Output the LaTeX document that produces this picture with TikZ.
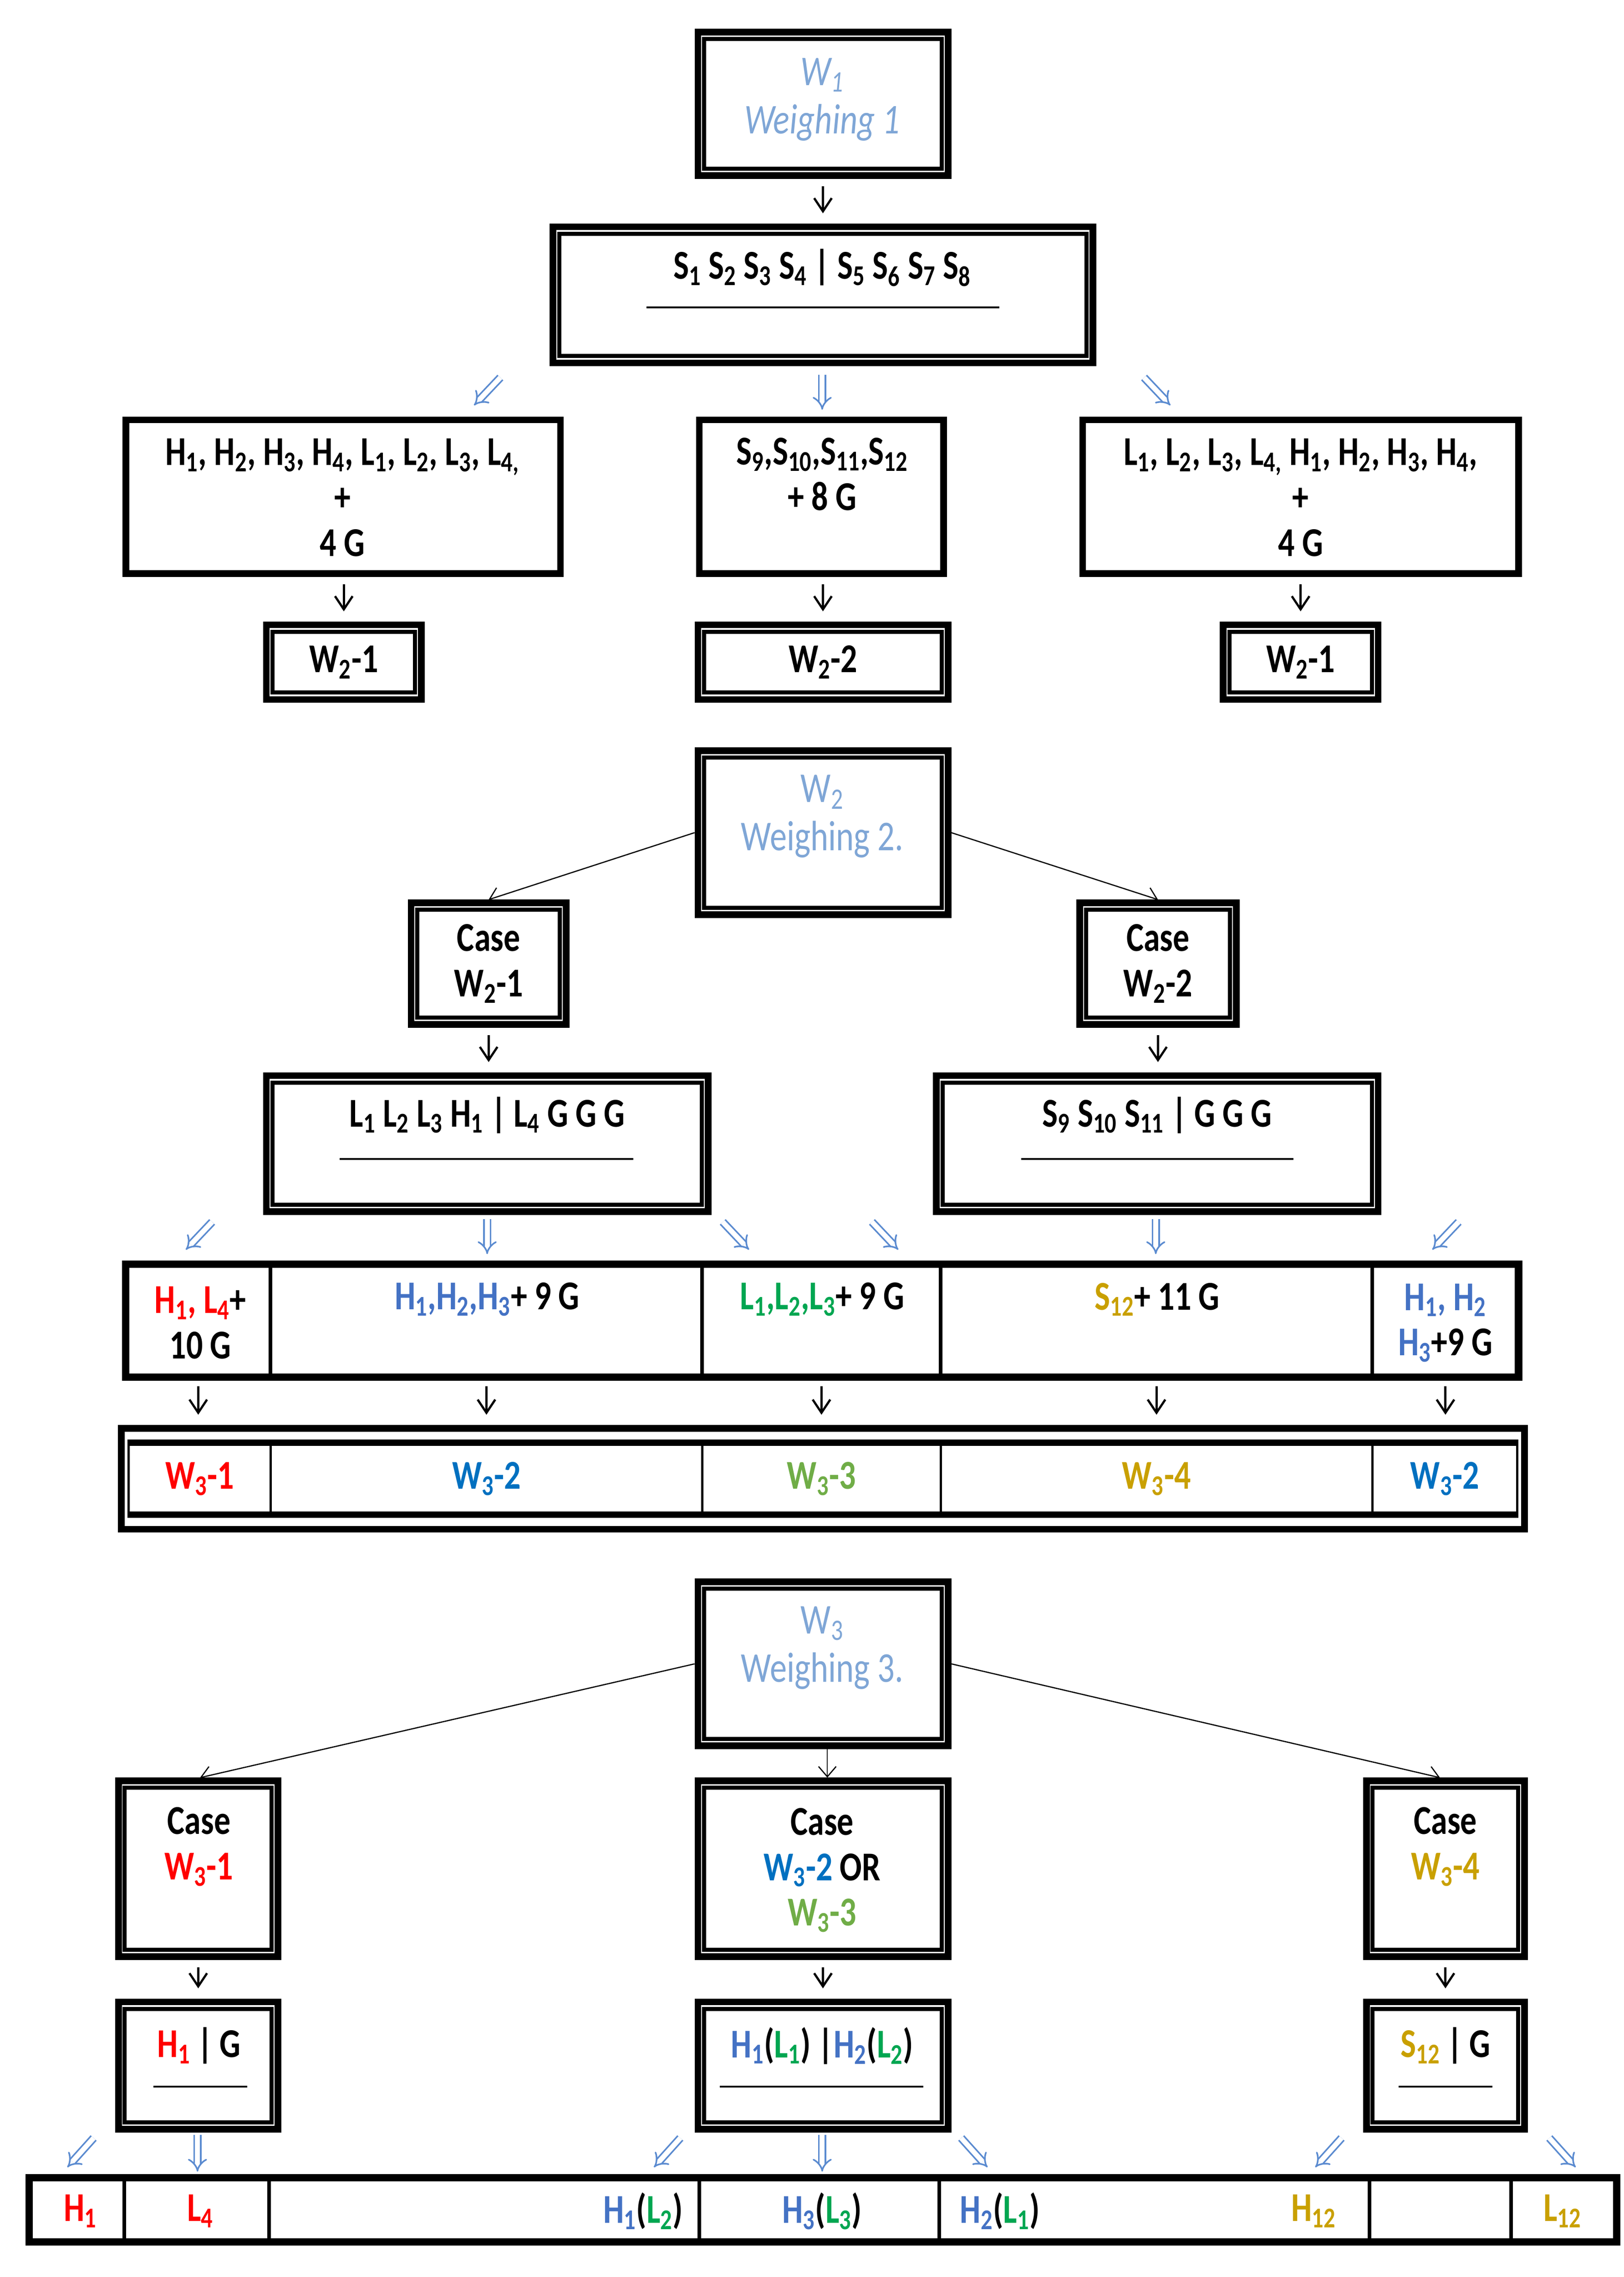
\documentclass[tikz,border=0pt]{standalone}
\usepackage{fontspec}
\setmainfont{Carlito}[FakeStretch=0.8]
\usetikzlibrary{arrows.meta}
\definecolor{cr}{HTML}{FF0000}
\definecolor{cb}{HTML}{4472C4}
\definecolor{cg}{HTML}{00A651}
\definecolor{cy}{HTML}{C9A000}
\definecolor{wb}{HTML}{0070C0}
\definecolor{wg}{HTML}{70AD47}
\definecolor{tb}{HTML}{7FA6D6}
\definecolor{ab}{HTML}{5B8BD0}
\newcommand\sbs[1]{\textsubscript{#1}}
\newcommand\bx[6]{\node[draw,line width=#6pt,inner sep=0,minimum width={(#4-#2)*1pt},minimum height={(#5-#3)*1pt}] (#1) at ({(#2+#4)/2},{(#3+#5)/2}) {};}
\newcommand\inr[1]{\draw[line width=2.8pt] ([xshift=6.5pt,yshift=-7pt]#1.north west) rectangle ([xshift=-6.5pt,yshift=7pt]#1.south east);}
\newcommand\dbx[5]{\bx{#1}{#2}{#3}{#4}{#5}{4.5}\inr{#1}}
\begin{document}
\begin{tikzpicture}[x=1pt,y=-1pt,
  every node/.style={font=\fontsize{28}{31}\selectfont\bfseries},
  t/.style={align=center,inner sep=0},
  ttl/.style={t,font=\fontsize{29}{33}\selectfont,text=tb},
  arr/.style={line width=1.5pt,-{Straight Barb[length=9pt,width=12pt]},shorten <=5pt,shorten >=7pt},
  thin/.style={line width=0.8pt,-{Straight Barb[length=7pt,width=12pt]}},
  ba/.style={draw=ab,line width=1.1pt,double=white,double distance=3.4pt,-{Implies}},
  ul/.style={line width=1.2pt}]
\useasboundingbox (0,0) rectangle (1110,1556);
% top
\dbx{w1}{477}{22}{648}{120}
\node[ttl,font=\fontsize{29}{33}\selectfont\itshape] (w1t) at (562,68) {W\sbs{1}\\Weighing 1};
\dbx{s1}{378}{155}{747}{248}
\node[t] (s1t) at (562,183) {S\sbs{1} S\sbs{2} S\sbs{3} S\sbs{4} | S\sbs{5} S\sbs{6} S\sbs{7} S\sbs{8}};
\draw[ul] (442,210) -- (683,210);
\draw[arr] (w1.south) -- (w1.south |- s1.north);
\draw[ba] (342,258) -- (324,277);
\draw[ba] (562,256) -- (562,280);
\draw[ba] (782,258) -- (800,277);
\bx{r1a}{86}{287}{383}{392}{4.5}
\bx{r1b}{478}{287}{645}{392}{4.5}
\bx{r1c}{740}{287}{1038}{392}{4.5}
\node[t] (r1at) at (234,340) {H\sbs{1}, H\sbs{2}, H\sbs{3}, H\sbs{4}, L\sbs{1}, L\sbs{2}, L\sbs{3}, L\sbs{4,}\\+\\4 G};
\node[t] (r1bt) at (562,324) {S\sbs{9},S\sbs{10},S\sbs{11},S\sbs{12}\\+ 8 G};
\node[t] (r1ct) at (889,340) {L\sbs{1}, L\sbs{2}, L\sbs{3}, L\sbs{4,} H\sbs{1}, H\sbs{2}, H\sbs{3}, H\sbs{4},\\+\\4 G};
\dbx{v1a}{182}{427}{288}{478}
\dbx{v1b}{477}{427}{648}{478}
\dbx{v1c}{836}{427}{942}{478}
\node[t] at (v1a) {W\sbs{2}-1};
\node[t] at (v1b) {W\sbs{2}-2};
\node[t] at (v1c) {W\sbs{2}-1};
\draw[arr] (r1a.south -| v1a.north) -- (v1a.north);
\draw[arr] (r1b.south -| v1b.north) -- (v1b.north);
\draw[arr] (r1c.south -| v1c.north) -- (v1c.north);
% W2
\dbx{w2}{477}{513}{648}{625}
\node[ttl] (w2t) at (562,558) {W\sbs{2}\\Weighing 2.};
\dbx{c2a}{281}{617}{387}{700}
\dbx{c2b}{738}{617}{845}{700}
\node[t] (c2at) at (c2a) {Case\\W\sbs{2}-1};
\node[t] (c2bt) at (c2b) {Case\\W\sbs{2}-2};
\draw[thin] (w2.west) -- (c2a.north);
\draw[thin] (w2.east) -- (c2b.north);
\dbx{s2a}{182}{735}{484}{828}
\dbx{s2b}{640}{735}{942}{828}
\node[t] (s2at) at (333,762) {L\sbs{1} L\sbs{2} L\sbs{3} H\sbs{1} | L\sbs{4} G G G};
\node[t] (s2bt) at (791,762) {S\sbs{9} S\sbs{10} S\sbs{11} | G G G};
\draw[ul] (232,792) -- (433,792);
\draw[ul] (698,792) -- (884,792);
\draw[arr] (c2a.south) -- (c2a.south |- s2a.north);
\draw[arr] (c2b.south) -- (c2b.south |- s2b.north);
\draw[ba] (145,835) -- (127,854);
\draw[ba] (333,833) -- (333,857);
\draw[ba] (494,835) -- (512,854);
\draw[ba] (596,835) -- (614,854);
\draw[ba] (790,833) -- (790,857);
\draw[ba] (997,835) -- (979,854);
% table 1
\bx{t1}{86}{864}{1038}{941}{5}
\bx{a1}{86}{864}{185}{941}{2.5}
\bx{a2}{185}{864}{480}{941}{2.5}
\bx{a3}{480}{864}{643}{941}{2.5}
\bx{a4}{643}{864}{938}{941}{2.5}
\bx{a5}{938}{864}{1038}{941}{2.5}
\node[t] (a1t) at (137,904) {\textcolor{cr}{H\sbs{1}, L\sbs{4}}+\\10 G};
\node[t] (a2t) at (333,888) {\textcolor{cb}{H\sbs{1},H\sbs{2},H\sbs{3}}+ 9 G};
\node[t] (a3t) at (562,888) {\textcolor{cg}{L\sbs{1},L\sbs{2},L\sbs{3}}+ 9 G};
\node[t] (a4t) at (791,888) {\textcolor{cy}{S\sbs{12}}+ 11 G};
\node[t] (a5t) at (988,904) {\textcolor{cb}{H\sbs{1}, H\sbs{2}}\\\textcolor{cb}{H\sbs{3}}+9 G};
% table 2
\bx{t2}{83}{976}{1042}{1045}{4.5}
\foreach \n/\xa/\xb in {b1/88/185,b2/185/480,b3/480/643,b4/643/938,b5/938/1037}{
  \node[draw,line width=1.5pt,inner sep=0,minimum width={(\xb-\xa)*1pt},minimum height=52pt] (\n) at ({(\xa+\xb)/2},1010.5) {};
  \draw[line width=3.5pt] ([yshift=-2.5pt]\n.north west) -- ([yshift=-2.5pt]\n.north east);
  \draw[line width=3.5pt] ([yshift=2.5pt]\n.south west) -- ([yshift=2.5pt]\n.south east);}
\node[t,text=cr] at (b1) {W\sbs{3}-1};
\node[t,text=wb] at (b2) {W\sbs{3}-2};
\node[t,text=wg] at (b3) {W\sbs{3}-3};
\node[t,text=cy] at (b4) {W\sbs{3}-4};
\node[t,text=wb] at (b5) {W\sbs{3}-2};
\draw[arr] (a1.south) -- (a1.south |- t2.north);
\draw[arr] (a2.south) -- (a2.south |- t2.north);
\draw[arr] (a3.south) -- (a3.south |- t2.north);
\draw[arr] (a4.south) -- (a4.south |- t2.north);
\draw[arr] (a5.south) -- (a5.south |- t2.north);
% W3
\dbx{w3}{477}{1081}{648}{1193}
\node[ttl] (w3t) at (562,1126) {W\sbs{3}\\Weighing 3.};
\dbx{c3a}{81}{1217}{190}{1337}
\dbx{c3b}{477}{1217}{648}{1337}
\dbx{c3c}{934}{1217}{1042}{1337}
\node[t] (c3at) at (136,1262) {Case\\\textcolor{cr}{W\sbs{3}-1}};
\node[t] (c3bt) at (562,1278) {Case\\\textcolor{wb}{W\sbs{3}-2} OR\\\textcolor{wg}{W\sbs{3}-3}};
\node[t] (c3ct) at (988,1262) {Case\\\textcolor{cy}{W\sbs{3}-4}};
\draw[thin] (w3.west) -- ([xshift=58pt]c3a.north west);
\draw[thin] (w3.east) -- ([xshift=-60pt]c3c.north east);
\draw[thin] ([xshift=3pt]w3.south) -- ([xshift=3pt]c3b.north);
\dbx{h3a}{81}{1368}{190}{1455}
\dbx{h3b}{477}{1368}{648}{1455}
\dbx{h3c}{934}{1368}{1042}{1455}
\node[t] (h3at) at (136,1398) {\textcolor{cr}{H\sbs{1}}\,|\,G};
\node[t] (h3bt) at (562,1398) {\textcolor{cb}{H\sbs{1}}(\textcolor{cg}{L\sbs{1}}) |\textcolor{cb}{H\sbs{2}}(\textcolor{cg}{L\sbs{2}})};
\node[t] (h3ct) at (988,1398) {\textcolor{cy}{S\sbs{12}}\,|\,G};
\draw[ul] (105,1426) -- (169,1426);
\draw[ul] (492,1426) -- (631,1426);
\draw[ul] (956,1426) -- (1020,1426);
\draw[arr] (c3a.south) -- (c3a.south |- h3a.north);
\draw[arr] (c3b.south) -- (c3b.south |- h3b.north);
\draw[arr] (c3c.south) -- (c3c.south |- h3c.north);
\draw[ba] (64,1461) -- (46,1481);
\draw[ba] (135,1459) -- (135,1484);
\draw[ba] (465,1461) -- (447,1481);
\draw[ba] (562,1459) -- (562,1484);
\draw[ba] (657,1461) -- (675,1481);
\draw[ba] (917,1461) -- (899,1481);
\draw[ba] (1059,1461) -- (1077,1481);
% bottom
\bx{t3}{20}{1488}{1105}{1532}{5}
\foreach \n/\xa/\xb in {d1/20/85,d2/85/184,d3/184/478,d4/478/642,d5/642/936,d6/936/1033,d7/1033/1105}{
  \node[draw,line width=2.5pt,inner sep=0,minimum width={(\xb-\xa)*1pt},minimum height=44pt] (\n) at ({(\xa+\xb)/2},1510) {};}
\node[t,text=cr] at (55,1511) {H\sbs{1}};
\node[t,text=cr] at (137,1511) {L\sbs{4}};
\node[t,anchor=east] at (467,1511) {\textcolor{cb}{H\sbs{1}}(\textcolor{cg}{L\sbs{2}})};
\node[t] at (562,1511) {\textcolor{cb}{H\sbs{3}}(\textcolor{cg}{L\sbs{3}})};
\node[t,anchor=west] at (656,1511) {\textcolor{cb}{H\sbs{2}}(\textcolor{cg}{L\sbs{1}})};
\node[t,text=cy] at (898,1511) {H\sbs{12}};
\node[t,text=cy] at (1068,1511) {L\sbs{12}};
\end{tikzpicture}
\end{document}
